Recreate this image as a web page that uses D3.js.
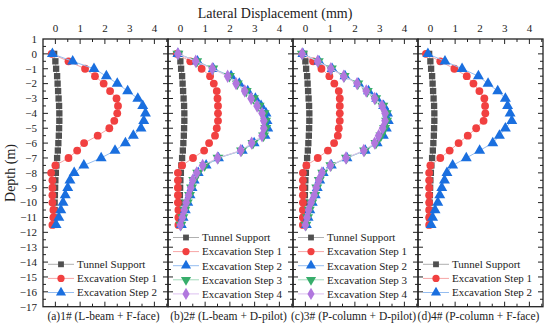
<!DOCTYPE html>
<html><head><meta charset="utf-8">
<script src="https://cdn.jsdelivr.net/npm/d3@7/dist/d3.min.js"></script>
<style>body{margin:0;background:#fff}svg{display:block}</style>
</head><body><svg id="c" width="550" height="327" font-family="'Liberation Serif', 'DejaVu Serif', 'Times New Roman', serif"></svg>
<script>
const depth = [0,-0.5,-1,-1.5,-2,-2.5,-3,-3.5,-4,-4.5,-5,-5.5,-6,-6.5,-7,-7.5,-8,-8.5,-9,-9.5,-10,-10.5,-11,-11.5];
const seriesNames = ["Tunnel Support","Excavation Step 1","Excavation Step 2","Excavation Step 3","Excavation Step 4"];
const xTicks = [0,1,2,3,4];
const yTicks = [1,0,-1,-2,-3,-4,-5,-6,-7,-8,-9,-10,-11,-12,-13,-14,-15,-16,-17];
const panelCaptions = ["(a)1# (L-beam + F-face)","(b)2# (L-beam + D-pilot)","(c)3# (P-column + D-pilot)","(d)4# (P-column + F-face)"];

const tunnelSupport = [-0.05,0,0.03,0.07,0.09,0.11,0.13,0.15,0.16,0.16,0.15,0.14,0.12,0.1,0.07,0.04,0.02,0.0,-0.01,-0.02,-0.03,-0.03,-0.04,-0.04];

const a_step1 = [-0.15,0.53,1.2,1.6,1.95,2.21,2.47,2.53,2.5,2.38,2.18,1.71,1.16,0.88,0.53,0.0,-0.17,-0.12,-0.12,-0.12,-0.12,-0.08,-0.08,-0.12];
const a_step2 = [-0.12,0.7,1.56,2.06,2.5,2.92,3.33,3.53,3.64,3.57,3.46,3.15,2.83,2.41,1.85,1.15,0.76,0.59,0.5,0.4,0.31,0.22,0.14,0.03];

const b_step1 = [-0.15,0.4,0.86,1.2,1.35,1.47,1.5,1.52,1.52,1.52,1.47,1.4,1.16,0.96,0.51,0.07,-0.1,-0.1,-0.1,-0.1,-0.1,-0.08,-0.08,-0.08];
const b_step2 = [-0.1,0.69,1.33,2.05,2.38,2.72,3.03,3.26,3.46,3.5,3.53,3.42,2.98,2.5,1.54,1.04,0.72,0.56,0.47,0.39,0.3,0.2,0.11,0.04];
const b_step3 = [-0.1,0.66,1.31,1.98,2.3,2.66,2.95,3.18,3.38,3.44,3.45,3.36,2.93,2.47,1.52,0.98,0.7,0.54,0.45,0.37,0.28,0.18,0.1,0.02];
const b_step4 = [-0.1,0.62,1.29,1.91,2.25,2.6,2.86,3.1,3.3,3.37,3.37,3.3,2.88,2.44,1.5,0.9,0.66,0.5,0.42,0.33,0.24,0.16,0.08,0.0];

const c_step1 = [-0.13,0.31,0.65,0.97,1.17,1.35,1.39,1.39,1.39,1.39,1.35,1.31,1.16,0.91,0.5,0.04,-0.1,-0.1,-0.1,-0.1,-0.1,-0.1,-0.1,-0.1];
const c_step2 = [-0.1,0.55,1.08,1.6,2.15,2.55,2.88,3.16,3.32,3.35,3.27,3.15,2.9,2.42,1.68,1.05,0.72,0.58,0.48,0.4,0.28,0.18,0.11,0.04];
const c_step3 = [-0.12,0.52,1.05,1.57,2.12,2.5,2.84,3.13,3.27,3.28,3.2,3.05,2.85,2.39,1.66,1.03,0.7,0.56,0.46,0.38,0.26,0.16,0.09,0.02];
const c_step4 = [-0.13,0.5,1.03,1.55,2.09,2.46,2.8,3.1,3.22,3.22,3.12,2.96,2.8,2.36,1.64,1.01,0.67,0.54,0.44,0.36,0.23,0.13,0.07,0.0];

const d_step1 = [-0.18,0.4,0.97,1.47,1.74,1.98,2.18,2.21,2.22,2.15,1.85,1.51,1.14,0.78,0.4,0.0,-0.05,-0.05,-0.05,-0.05,-0.05,-0.05,-0.05,-0.05];
const d_step2 = [-0.1,0.59,1.28,1.94,2.33,2.72,3.03,3.12,3.22,3.29,3.03,2.79,2.52,1.99,1.45,0.9,0.67,0.57,0.46,0.38,0.3,0.19,0.09,0.03];

const markerColors = ["#505050","#F14040","#1A6FDF","#37AD6B","#B177DE"];
const lineColors = ["#b0b0b0","#f7a5a5","#95bdf0","#a3dabb","#dcc0f0"];
const symbols = [d3.symbolSquare, d3.symbolCircle, d3.symbolTriangle, d3.symbolTriangle, d3.symbolDiamond];
const symSizes = [40, 48, 52, 52, 52];
const symRot = [0,0,0,180,0];

const panels = [
  {series:[tunnelSupport,a_step1,a_step2], legendTop:264.3},
  {series:[tunnelSupport,b_step1,b_step2,b_step3,b_step4], legendTop:237.5},
  {series:[tunnelSupport,c_step1,c_step2,c_step3,c_step4], legendTop:237.5},
  {series:[tunnelSupport,d_step1,d_step2], legendTop:264.3}
];

const svg = d3.select("#c");
const txtCol = "#222";
const plotTop = 39, plotBottom = 306.7, pw = 125, left0 = 43;
const y = d3.scaleLinear().domain([1,-17]).range([plotTop,plotBottom]);
const yMinor = [];
for (let v = 0.5; v > -17; v -= 1) yMinor.push(v);
const xMinor = [-0.5,0.5,1.5,2.5,3.5,4.5];

panels.forEach((p,i) => {
  const x0 = left0 + i*pw;
  const x = d3.scaleLinear().domain([-0.5,4.55]).range([x0,x0+pw]);
  const g = svg.append("g");
  const tk = g.append("g").attr("stroke","#222").attr("stroke-width",1);
  xTicks.forEach(v => {
    tk.append("line").attr("x1",x(v)).attr("x2",x(v)).attr("y1",plotTop).attr("y2",plotTop+5);
    tk.append("line").attr("x1",x(v)).attr("x2",x(v)).attr("y1",plotBottom).attr("y2",plotBottom-5);
  });
  xMinor.forEach(v => {
    if (x(v) <= x0+0.5 || x(v) >= x0+pw-0.5) return;
    tk.append("line").attr("x1",x(v)).attr("x2",x(v)).attr("y1",plotTop).attr("y2",plotTop+3);
    tk.append("line").attr("x1",x(v)).attr("x2",x(v)).attr("y1",plotBottom).attr("y2",plotBottom-3);
  });
  yTicks.forEach(v => {
    if (v===1 || v===-17) return;
    tk.append("line").attr("x1",x0).attr("x2",x0+5).attr("y1",y(v)).attr("y2",y(v));
    tk.append("line").attr("x1",x0+pw).attr("x2",x0+pw-5).attr("y1",y(v)).attr("y2",y(v));
  });
  yMinor.forEach(v => {
    tk.append("line").attr("x1",x0).attr("x2",x0+3).attr("y1",y(v)).attr("y2",y(v));
    tk.append("line").attr("x1",x0+pw).attr("x2",x0+pw-3).attr("y1",y(v)).attr("y2",y(v));
  });
  xTicks.forEach(v => {
    g.append("text").attr("x",x(v)).attr("y",32).attr("text-anchor","middle").attr("font-size",11).attr("fill",txtCol).text(v);
  });
  g.append("rect").attr("x",x0).attr("y",plotTop).attr("width",pw).attr("height",plotBottom-plotTop)
    .attr("fill","none").attr("stroke","#222").attr("stroke-width",1.3);
  p.series.forEach((vals,k) => {
    const pts = vals.map((v,j) => [x(v), y(depth[j])]);
    g.append("path").attr("d", d3.line()(pts)).attr("fill","none").attr("stroke",lineColors[k]).attr("stroke-width",1);
    const sym = d3.symbol().type(symbols[k]).size(symSizes[k]);
    g.selectAll(null).data(pts).join("path").attr("d",sym)
      .attr("transform", d => `translate(${d[0]},${d[1]}) rotate(${symRot[k]})`)
      .attr("fill",markerColors[k]);
  });
  p.series.forEach((vals,k) => {
    const ly = p.legendTop + k*14.1;
    g.append("line").attr("x1",x0+5).attr("x2",x0+31).attr("y1",ly).attr("y2",ly).attr("stroke",lineColors[k]).attr("stroke-width",1);
    g.append("path").attr("d",d3.symbol().type(symbols[k]).size(symSizes[k]*0.85)).attr("transform",`translate(${x0+18},${ly}) rotate(${symRot[k]})`).attr("fill",markerColors[k]);
    g.append("text").attr("x",x0+34).attr("y",ly).attr("dy","0.35em").attr("font-size",11).attr("fill",txtCol).text(seriesNames[k]);
  });
  g.append("text").attr("x",x0+pw/2-2).attr("y",320).attr("text-anchor","middle").attr("font-size",11.5).attr("fill",txtCol).text(panelCaptions[i]);
});

yTicks.forEach(v => {
  svg.append("text").attr("x",37).attr("y",y(v)).attr("dy","0.35em").attr("text-anchor","end").attr("font-size",11).attr("fill",txtCol)
    .text(v < 0 ? "\u2212" + Math.abs(v) : v);
});
svg.append("text").attr("x",275).attr("y",17.5).attr("text-anchor","middle").attr("font-size",14).attr("fill",txtCol).text("Lateral Displacement (mm)");
svg.append("text").attr("transform","translate(14.5,173) rotate(-90)").attr("text-anchor","middle").attr("font-size",14).attr("fill",txtCol).text("Depth (m)");
</script></body></html>
